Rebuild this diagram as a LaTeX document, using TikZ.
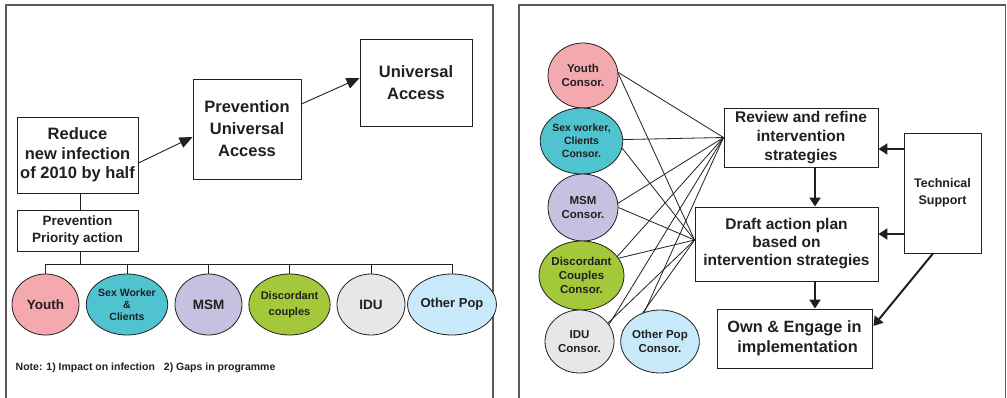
\documentclass[tikz,border=0pt]{standalone}
\usepackage{fontspec}
\setmainfont{Liberation Sans}
\usetikzlibrary{arrows.meta,shapes.geometric,calc}
\definecolor{txt}{HTML}{231F20}
\definecolor{frame}{HTML}{5A5A5A}
\definecolor{cyouth}{HTML}{F4A9AE}
\definecolor{csex}{HTML}{4FC3CF}
\definecolor{cmsm}{HTML}{C5C1E0}
\definecolor{cdisc}{HTML}{A3C93A}
\definecolor{cidu}{HTML}{E6E7E8}
\definecolor{cother}{HTML}{C8E9F9}
\newcommand{\fs}[2]{\fontsize{#1}{#2}\selectfont\bfseries}
\begin{document}
\begin{tikzpicture}[x=1pt,y=-1pt,
  box/.style={draw=txt, line width=0.9pt, fill=white, inner sep=0pt, text=txt, align=center, rectangle},
  pop/.style={ellipse, draw=txt, line width=0.8pt, inner sep=0pt, text=txt, align=center},
  conn/.style={draw=txt, line width=0.8pt},
  arr/.style={draw=txt, line width=0.9pt, -{Triangle[length=13pt,width=11pt]}},
  tarr/.style={draw=txt, line width=2pt, -{Triangle[length=9pt,width=11pt]}},
  net/.style={draw=txt, line width=0.8pt},
  panel/.style={draw=frame, line width=1.1pt}]
\useasboundingbox (0,0) rectangle (1007,397);
% panels
\draw[panel] (6,400) -- (6,5) -- (493,5) -- (493,400);
\draw[panel] (519,400) -- (519,5) -- (1005.5,5) -- (1005.5,400);

% ---------- left panel ----------
\node[box, minimum width=121, minimum height=76, font=\fs{16.5}{19.5}] (reduce) at (77.5,155) {Reduce\\new infection\\of 2010 by half};
\node[box, minimum width=108, minimum height=100, font=\fs{16.5}{22}] (pua) at (247,129) {Prevention\\Universal\\Access};
\node[box, minimum width=112, minimum height=87, font=\fs{16.5}{22}] (ua) at (416,82.5) {Universal\\Access};
\node[box, minimum width=121, minimum height=41, font=\fs{13.5}{17.5}] (ppa) at (77.5,230.5) {Prevention\\Priority action};

\node[pop, fill=cyouth, minimum width=67, minimum height=61, font=\fs{13.5}{15}] (c1) at (45.5,304.5) {Youth};
\node[pop, fill=csex, minimum width=68, minimum height=61, font=\fs{10.5}{12}] (c2) at (127,304.5) {Sex Worker\\\&\\Clients};
\node[pop, fill=cmsm, minimum width=67, minimum height=61, font=\fs{13.5}{15}] (c3) at (208.5,304.5) {MSM};
\node[pop, fill=cdisc, minimum width=67, minimum height=61, font=\fs{11}{15.5}] (c4) at (289.5,304.5) {Discordant\\couples};
\node[pop, fill=cidu, minimum width=68, minimum height=61, font=\fs{13.5}{15}] (c5) at (371,304.5) {IDU};
\node[pop, fill=cother, minimum width=68, minimum height=61, font=\fs{13}{15}] (c6) at (452,304.5) {Other Pop};

\node[anchor=west, inner sep=0pt, text=txt, font=\fs{10.5}{12}] (note) at (15.5,368) {Note: 1) Impact on infection\hspace{9pt}2) Gaps in programme};

\coordinate (bus) at (0,264);
\draw[conn] ($(reduce.south)+(2.5,0)$) -- ($(ppa.north)+(2.5,0)$);
\draw[conn] ($(ppa.south)+(2.5,0)$) -- ($(ppa.south |- bus)+(2.5,0)$);
\draw[conn] (c1.north |- bus) -- (c6.north |- bus);
\foreach \i in {1,...,6} \draw[conn] (c\i.north) -- (c\i.north |- bus);

\draw[arr] (reduce.east |- 0,163) -- (pua.west |- 0,137);
\draw[arr] (pua.east |- 0,104) -- (ua.west |- 0,78);

% ---------- right panel ----------
\node[pop, fill=cyouth, minimum width=70, minimum height=65, font=\fs{11.5}{14}] (ry) at (583,75.5) {Youth\\Consor.};
\node[pop, fill=csex, minimum width=73, minimum height=66, font=\fs{10.5}{13}] (rs) at (581.5,141) {Sex worker,\\Clients\\Consor.};
\node[pop, fill=cmsm, minimum width=70, minimum height=67, font=\fs{11.5}{14}] (rm) at (583,207.5) {MSM\\Consor.};
\node[pop, fill=cdisc, minimum width=73, minimum height=69, font=\fs{11.5}{14}] (rd) at (581.5,275.5) {Discordant\\Couples\\Consor.};
\node[pop, fill=cidu, minimum width=69, minimum height=63, font=\fs{11.5}{14}] (ri) at (579.5,341.5) {IDU\\Consor.};
\node[pop, fill=cother, minimum width=70, minimum height=63, font=\fs{11.5}{14}] (ro) at (660,341.5) {Other Pop\\Consor.};

\node[box, minimum width=154, minimum height=59, font=\fs{15.5}{19}] (review) at (801,137.5) {Review and refine\\intervention\\strategies};
\node[box, minimum width=183, minimum height=74, font=\fs{15.5}{18}] (draft) at (786.5,244) {Draft action plan\\based on\\intervention strategies};
\node[box, minimum width=155, minimum height=59, font=\fs{16.3}{20}] (own) at (794.5,338.5) {Own \& Engage in\\\hspace*{6pt}implementation};
\node[box, minimum width=77, minimum height=120, font=\fs{12.5}{17}] (ts) at (942.5,193) {Technical\\Support};

\coordinate (rp) at (review.west);
\coordinate (dp) at ($(draft.west)+(0,-4)$);
\foreach \n/\a/\b in {ry/5/3, rs/2/-10, rm/7/0, rd/28/25, ri/30/33, ro/118/121} {
  \draw[net] (\n.\a) -- (rp);
  \draw[net] (\n.\b) -- (dp);
}

\coordinate (ax) at (815,0);
\draw[tarr] (review.south -| ax) -- (draft.north -| ax);
\draw[tarr] (draft.south -| ax) -- (own.north -| ax);
\draw[tarr] ($(ts.west)+(0,-44)$) -- ($(review.east)+(0,11.5)$);
\draw[tarr] ($(ts.west)+(0,41)$) -- ($(draft.east)+(0,-10)$);
\draw[tarr] ($(ts.south)+(-9.5,0)$) -- ($(own.east)+(1,-12.5)$);
\end{tikzpicture}
\end{document}
